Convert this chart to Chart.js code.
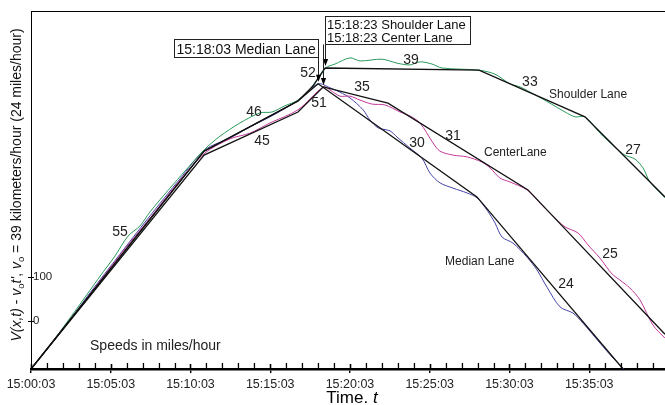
<!DOCTYPE html>
<html><head><meta charset="utf-8">
<script src="https://cdn.jsdelivr.net/npm/chart.js@4.4.0/dist/chart.umd.min.js"></script>
<style>html,body{margin:0;padding:0;background:#fff}#wrap{width:665px;height:405px;position:relative}</style>
</head><body><div id="wrap"><canvas id="c"></canvas></div>
<script>
// ---- data (x: minutes after 15:00:03, y: V(x,t) - v0 t') ----
const timeTickLabels = ['15:00:03','15:05:03','15:10:03','15:15:03','15:20:03','15:25:03','15:30:03','15:35:03'];
const yTickValues = [0, 100];
const minuteTicks = [0,1,2,3,4,5,6,7,8,9,10,11,12,13,14,15,16,17,18,19,20,21,22,23,24,25,26,27,28,29,30,31,32,33,34,35,36,37,38,39];

const shoulderModelT = [0, 10.85, 16.74, 17.68, 18.45, 28.09, 34.73, 39.75];
const shoulderModelV = [-109, 386, 500, 534, 575, 570, 464, 282];
const medianModelT = [0, 10.85, 16.74, 18.0, 27.96, 37.12];
const medianModelV = [-109, 386, 500, 539, 282, -109];
const centerModelT = [0, 10.85, 16.74, 18.33, 22.38, 31.16, 39.75];
const centerModelV = [-109, 377, 475, 532, 495, 298, -30];

const shoulderDataT = [0,1.19,2.45,3.70,4.33,5.27,6.08,6.83,7.46,8.71,9.66,10.85,11.85,13.10,14.36,15.11,15.92,16.74,17.49,17.99,18.45,19.06,20.0,20.63,22.01,22.95,23.76,24.39,25.14,25.77,28.09,29.09,30.03,30.66,31.6,32.54,33.48,34.11,34.73,35.67,36.61,37.24,37.87,38.37,38.81,39.75];
const shoulderDataV = [-109,-55,7,70,102,148,193,216,248,302,341,389,420,450,473,475,489,502,527,552,575,584,598,591,595,586,582,589,584,575,570,561,539,532,514,495,475,464,464,427,395,377,368,348,316,280];
const centerDataT = [0,1.82,3.70,5.58,7.46,9.34,10.91,12.48,13.73,14.98,16.74,18.33,18.75,19.37,20.0,20.63,21.38,22.19,23.14,23.76,24.39,25.2,25.64,26.46,27.34,28.28,28.78,29.4,30.03,31.1,31.91,32.66,33.48,34.3,34.92,35.67,36.43,36.93,37.55,38.18,38.99,39.75];
const centerDataV = [-109,-27,61,150,234,320,382,414,427,450,480,532,525,511,511,502,493,491,475,466,450,405,386,377,373,361,348,325,316,298,268,241,214,200,173,143,107,93,75,48,-9,-39];
const medianDataT = [0,1.82,3.70,5.58,7.46,9.34,10.91,12.48,13.73,15.3,16.74,18.0,18.75,19.37,20.0,20.82,21.25,21.76,22.51,22.95,23.76,24.51,25.02,25.64,26.46,27.34,27.96,28.59,29.09,29.53,30.22,31.1,31.72,32.35,33.17,33.98,34.61,35.67,36.49,37.24];
const medianDataV = [-109,-27,64,152,239,323,389,416,441,470,502,539,530,520,507,480,457,439,432,418,393,370,336,314,302,291,280,252,223,191,177,145,116,77,32,18,-5,-50,-84,-111];

const speedTexts = ['55','46','45','52','51','35','39','33','31','30','27','25','24'];
const speedAnchorT = [5.58,13.98,14.48,17.37,18.06,20.75,23.82,31.28,26.46,24.2,37.74,36.3,33.54];
const speedAnchorV = [202,475,409,564,495,532,593,543,420,405,389,152,84];
const laneTexts = ['Shoulder Lane','CenterLane','Median Lane','Speeds in miles/hour'];
const laneAnchorT = [32.48,28.4,25.96,3.7];
const laneAnchorV = [515,382,134,-57];
const medianPeakLabel = '15:18:03 Median Lane';
const shoulderCenterLabels = ['15:18:23 Shoulder Lane','15:18:23 Center Lane'];

// ---- build ----
const pts = (T, V) => T.map((t, i) => ({x: t, y: V[i]}));
const FONT = "'Liberation Sans', Arial, sans-serif";
Chart.defaults.font.family = FONT;

function modelDs(T, V){ return {data: pts(T,V), borderColor:'#111', borderWidth:1.3, pointRadius:0, tension:0, fill:false}; }
function dataDs(T, V, c){ return {data: pts(T,V), borderColor:c, borderWidth:1, pointRadius:0, tension:0.3, fill:false}; }

function arrow(ctx, x, y0, y1){
  ctx.beginPath(); ctx.moveTo(x, y0); ctx.lineTo(x, y1 - 6); ctx.stroke();
  ctx.beginPath(); ctx.moveTo(x - 2.6, y1 - 7); ctx.lineTo(x + 2.6, y1 - 7); ctx.lineTo(x, y1); ctx.closePath(); ctx.fill();
}

// tick marks inside the plot (every minute), y ticks, top frame line
const tickMarks = {
  id: 'tickMarks',
  afterDraw(chart){
    const ctx = chart.ctx, xs = chart.scales.x, ys = chart.scales.y;
    const bottom = Math.round(ys.getPixelForValue(ys.min));
    const left = Math.round(xs.getPixelForValue(xs.min));
    ctx.save();
    ctx.fillStyle = '#000';
    minuteTicks.forEach(m => {
      const px = Math.round(xs.getPixelForValue(m));
      if (m % 5 === 0) ctx.fillRect(px - 0.3, bottom - 5, 1.6, 6);
      else ctx.fillRect(px - 0.2, bottom - 6, 1.3, 6);
    });
    yTickValues.forEach(v => {
      const py = Math.round(ys.getPixelForValue(v));
      ctx.fillRect(left - 3, py, 6, 1);
    });
    ctx.fillRect(left, Math.round(ys.getPixelForValue(ys.max)), chart.width - left, 1);
    ctx.restore();
  }
};

const annot = {
  id: 'annot',
  afterDraw(chart){
    const ctx = chart.ctx, xs = chart.scales.x, ys = chart.scales.y;
    ctx.save();
    ctx.fillStyle = '#222'; ctx.textAlign = 'center'; ctx.textBaseline = 'middle';
    ctx.font = '14px ' + FONT;
    speedTexts.forEach((t, i) => ctx.fillText(t, xs.getPixelForValue(speedAnchorT[i]), ys.getPixelForValue(speedAnchorV[i])));
    ctx.textAlign = 'left';
    laneTexts.forEach((t, i) => {
      ctx.font = (i === 3 ? '14px ' : '12px ') + FONT;
      ctx.fillText(t, xs.getPixelForValue(laneAnchorT[i]), ys.getPixelForValue(laneAnchorV[i]));
    });
    ctx.fillStyle = '#000'; ctx.strokeStyle = '#222'; ctx.lineWidth = 1;
    const mx = Math.round(xs.getPixelForValue(medianModelT[3])) + 0.5;
    const mTip = ys.getPixelForValue(medianModelV[3]) - 2;
    ctx.strokeRect(mx - 144, 39.5, 144, 18);
    arrow(ctx, mx, 57.5, mTip);
    ctx.font = '14px ' + FONT; ctx.textBaseline = 'alphabetic'; ctx.fillStyle = '#111';
    ctx.fillText(medianPeakLabel, mx - 142, 54);
    const sx = Math.round(xs.getPixelForValue(shoulderModelT[4])) + 0.5;
    const sTip = ys.getPixelForValue(shoulderModelV[4]) - 2;
    const cx = Math.round(xs.getPixelForValue(centerModelT[3])) + 0.5;
    const cTip = ys.getPixelForValue(centerModelV[3]) - 2;
    ctx.strokeRect(sx, 16.5, 145, 28);
    ctx.fillStyle = '#000';
    arrow(ctx, sx, 44.5, sTip);
    arrow(ctx, cx, 44.5, cTip);
    ctx.font = '13px ' + FONT; ctx.fillStyle = '#111';
    ctx.fillText(shoulderCenterLabels[0], sx + 1.5, 29);
    ctx.fillText(shoulderCenterLabels[1], sx + 1.5, 42);
    // x axis title
    ctx.fillStyle = '#000';
    ctx.font = '17px ' + FONT;
    const t1 = 'Time. ';
    const w1 = ctx.measureText(t1).width;
    ctx.font = 'italic 17px ' + FONT;
    const w2 = ctx.measureText('t').width;
    const tx = 352 - (w1 + w2) / 2;
    ctx.font = '17px ' + FONT; ctx.fillText(t1, tx, 403);
    ctx.font = 'italic 17px ' + FONT; ctx.fillText('t', tx + w1, 403);
    // y axis title (rich text, rotated)
    const runs = [
      ['V(x,t)', 'italic 14px'], [' - ', '14px'], ['v', 'italic 14px'], ['o', '9.5px', 3], ["t'", 'italic 14px'],
      [', ', '14px'], ['v', 'italic 14px'], ['o', '9.5px', 3], [' = 39 kilometers/hour (24 miles/hour)', '14px']
    ];
    let total = 0;
    runs.forEach(r => { ctx.font = r[1] + ' ' + FONT; total += ctx.measureText(r[0]).width; });
    ctx.translate(21, 185); ctx.rotate(-Math.PI / 2);
    let cur = -total / 2;
    ctx.fillStyle = '#111';
    runs.forEach(r => { ctx.font = r[1] + ' ' + FONT; ctx.fillText(r[0], cur, r[2] || 0); cur += ctx.measureText(r[0]).width; });
    ctx.restore();
  }
};

new Chart(document.getElementById('c'), {
  type: 'line',
  data: {
    datasets: [
      modelDs(shoulderModelT, shoulderModelV),
      modelDs(medianModelT, medianModelV),
      modelDs(centerModelT, centerModelV),
      dataDs(shoulderDataT, shoulderDataV, '#2a9a5c'),
      dataDs(centerDataT, centerDataV, '#c4399c'),
      dataDs(medianDataT, medianDataV, '#4545a8')
    ]
  },
  options: {
    responsive: true, maintainAspectRatio: false, animation: false, devicePixelRatio: 1,
    layout: {padding: {top: 11, left: 0, right: 0, bottom: 0}},
    plugins: {legend: {display: false}, tooltip: {enabled: false}},
    scales: {
      x: {
        type: 'linear', min: 0, max: 39.75,
        grid: {display: true, drawOnChartArea: false, drawTicks: true, tickLength: 4, color: '#000', lineWidth: 1.4},
        border: {display: true, color: '#000', width: 2.5},
        ticks: {stepSize: 5, includeBounds: false, autoSkip: false, maxRotation: 0, padding: 4,
          color: '#222', font: {size: 12.5},
          callback: v => (v % 5 === 0 && v / 5 < timeTickLabels.length) ? timeTickLabels[v / 5] : ''},
        afterFit: s => { s.height = 36; }
      },
      y: {
        type: 'linear', min: -109, max: 704.5,
        grid: {display: false, drawTicks: false},
        border: {display: true, color: '#000', width: 1},
        afterBuildTicks: s => { s.ticks = yTickValues.map(v => ({value: v})); },
        ticks: {mirror: true, padding: 2, color: '#222', font: {size: 11.5}},
        afterFit: s => { s.width = 31; }
      }
    }
  },
  plugins: [tickMarks, annot]
});
</script></body></html>
